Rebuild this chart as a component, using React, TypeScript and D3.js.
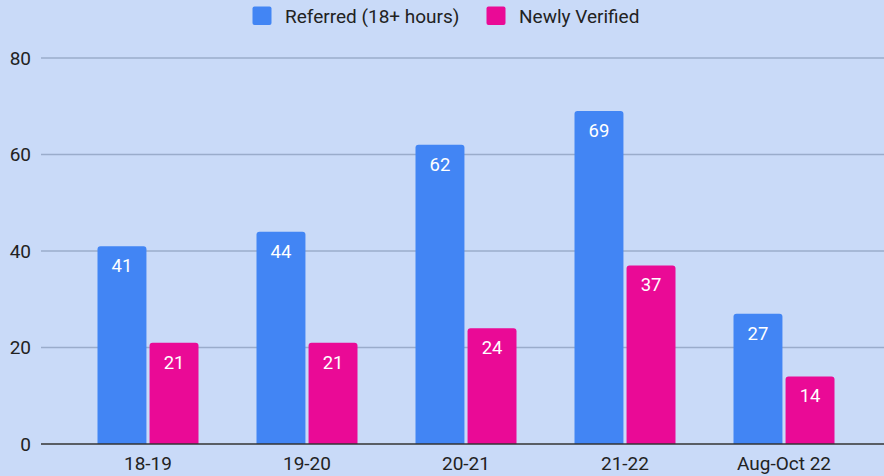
import * as d3 from 'd3';
import React from 'react';

const categories = ['18-19', '19-20', '20-21', '21-22', 'Aug-Oct 22'];
const seriesNames = ['Referred (18+ hours)', 'Newly Verified'];
const referred = [41, 44, 62, 69, 27];
const newlyVerified = [21, 21, 24, 37, 14];
const yTicks = [0, 20, 40, 60, 80];
const colors = ['#4285f4', '#ea0a96'];

const W = 884;
const H = 476;
const FONT = 'Roboto, sans-serif';
const FS = 19;

// rounded top corners only
const barPath = (x: number, y: number, w: number, h: number, r: number) => {
  const rr = Math.min(r, h / 2, w / 2);
  return `M${x},${y + h}V${y + rr}Q${x},${y} ${x + rr},${y}H${x + w - rr}Q${x + w},${y} ${x + w},${y + rr}V${y + h}Z`;
};

const App = () => {
  const values = [referred, newlyVerified];
  const y = d3.scaleLinear().domain([0, 80]).range([444, 58]);
  const x0 = d3.scaleBand().domain(categories).range([68.5, 863.5]);
  const groupW = 101;
  const x1 = d3
    .scaleBand()
    .domain(seriesNames)
    .range([-groupW / 2, groupW / 2])
    .paddingInner(0.06);

  return (
    <svg width={W} height={H} style={{ display: 'block', position: 'absolute', left: 0, top: 0 }}>
      <rect width={W} height={H} fill="#c9daf8" />
      {yTicks.map((t) =>
        t === 0 ? null : (
          <line key={t} x1={41} x2={W} y1={y(t)} y2={y(t)} stroke="#9aaccb" strokeWidth={1.5} />
        )
      )}
      {yTicks.map((t) => (
        <text
          key={'l' + t}
          x={31}
          y={y(t)}
          dy="0.35em"
          textAnchor="end"
          fontFamily={FONT}
          fontSize={FS}
          fill="#222"
        >
          {t}
        </text>
      ))}
      {categories.map((c, i) => (
        <g key={c} transform={`translate(${x0(c)! + x0.bandwidth() / 2},0)`}>
          {seriesNames.map((s, j) => {
            const v = values[j][i];
            const bx = x1(s)!;
            const bw = x1.bandwidth();
            const top = y(v);
            return (
              <g key={s}>
                <path d={barPath(bx, top, bw, y(0) - top, 3)} fill={colors[j]} />
                <text
                  x={bx + bw / 2}
                  y={top + 26}
                  textAnchor="middle"
                  fontFamily={FONT}
                  fontSize={18.5}
                  fill="#fff"
                >
                  {v}
                </text>
              </g>
            );
          })}
          <text x={0} y={469.5} textAnchor="middle" fontFamily={FONT} fontSize={FS} fill="#222">
            {c}
          </text>
        </g>
      ))}
      <line x1={41} x2={W} y1={y(0)} y2={y(0)} stroke="#333" strokeWidth={1.5} />
      <g fontFamily={FONT} fontSize={FS} fill="#222">
        <rect x={252.5} y={6.5} width={19} height={18.5} rx={2} fill={colors[0]} />
        <text x={285} y={16} dy="0.35em">
          {seriesNames[0]}
        </text>
        <rect x={486.5} y={6.5} width={19} height={18.5} rx={2} fill={colors[1]} />
        <text x={519} y={16} dy="0.35em">
          {seriesNames[1]}
        </text>
      </g>
    </svg>
  );
};

export default App;
